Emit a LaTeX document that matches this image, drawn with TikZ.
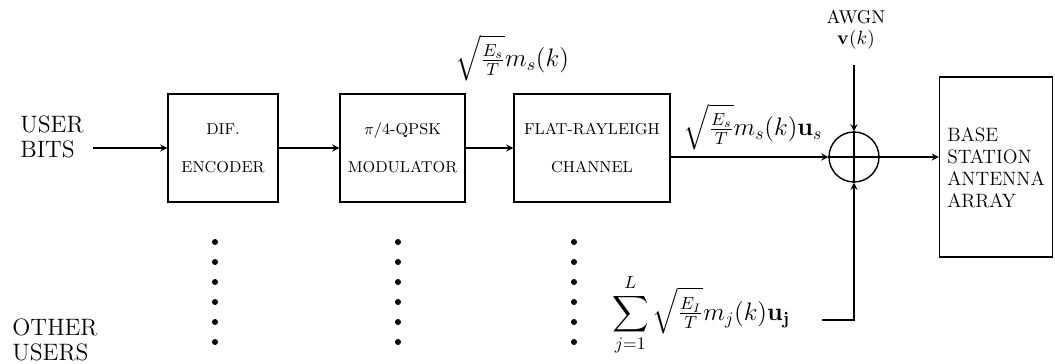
\documentclass[tikz,border=0pt]{standalone}
\usepackage{amsmath}
\usetikzlibrary{arrows}
\begin{document}
\begin{tikzpicture}[x=0.02cm,y=-0.02cm,>=stealth,thick,
  blk/.style={draw,minimum height=2.16cm,align=center,font=\small,inner sep=1pt},
  big/.style={font=\fontsize{13.5}{14.5}\selectfont,align=left},
  mth/.style={font=\fontsize{14}{16}\selectfont,inner sep=0pt}]
\useasboundingbox (0,0) rectangle (1055,364);
%blocks
\node[blk,minimum width=2.2cm] (enc) at (223,148) {DIF.\\[0.38cm]ENCODER};
\node[blk,minimum width=2.5cm] (mod) at (402.5,148) {$\pi$/4-QPSK\\[0.38cm]MODULATOR};
\node[blk,minimum width=3.12cm] (chan) at (592,148) {FLAT-RAYLEIGH\\[0.38cm]CHANNEL};
\node[draw,minimum width=2.26cm,minimum height=3.6cm,align=left,
  font=\fontsize{11}{12.5}\selectfont] (bs) at (996,167) {\rule{0pt}{0.3cm}BASE\\STATION\\ANTENNA\\ARRAY};
\node[draw,circle,minimum size=1cm,inner sep=0pt] (add) at (854,157) {};
\draw (add.north)--(add.south) (add.west)--(add.east);
%text
\node[big] (bits) at (52,137) {USER\\BITS};
\node[big] (oth) at (55,340) {OTHER\\USERS};
\node[font=\fontsize{10.5}{12}\selectfont,align=center] (awgn) at (856,30) {AWGN\\$\mathbf{v}(k)$};
\node[mth] (s1) at (512,58) {$\sqrt{\tfrac{E_s}{T}}m_s(k)$};
\node[mth] (s2) at (753,127) {$\sqrt{\tfrac{E_s}{T}}m_s(k)\mathbf{u}_s$};
\node[mth] (s3) at (701,315) {$\displaystyle\sum_{j=1}^{L}\sqrt{\tfrac{E_I}{T}}m_j(k)\mathbf{u}_{\mathbf{j}}$};
%connectors
\coordinate (in) at (93,148);
\coordinate (noise) at (854,65);
\coordinate (intf) at (822,320);
\draw[->] (in)--(enc.west);
\draw[->] (enc)--(mod);
\draw[->] (mod)--(chan);
\draw[->] (chan.east |- add)--(add.west);
\draw[->] (noise)--(add.north);
\draw[->] (intf)-|(add.south);
\draw[->] (add.east)--(bs.west |- add);
%dots
\foreach \x in {215,398,574}
  \foreach \y in {242,262,...,342}
    \fill (\x,\y) circle (1.7pt);
\end{tikzpicture}
\end{document}
